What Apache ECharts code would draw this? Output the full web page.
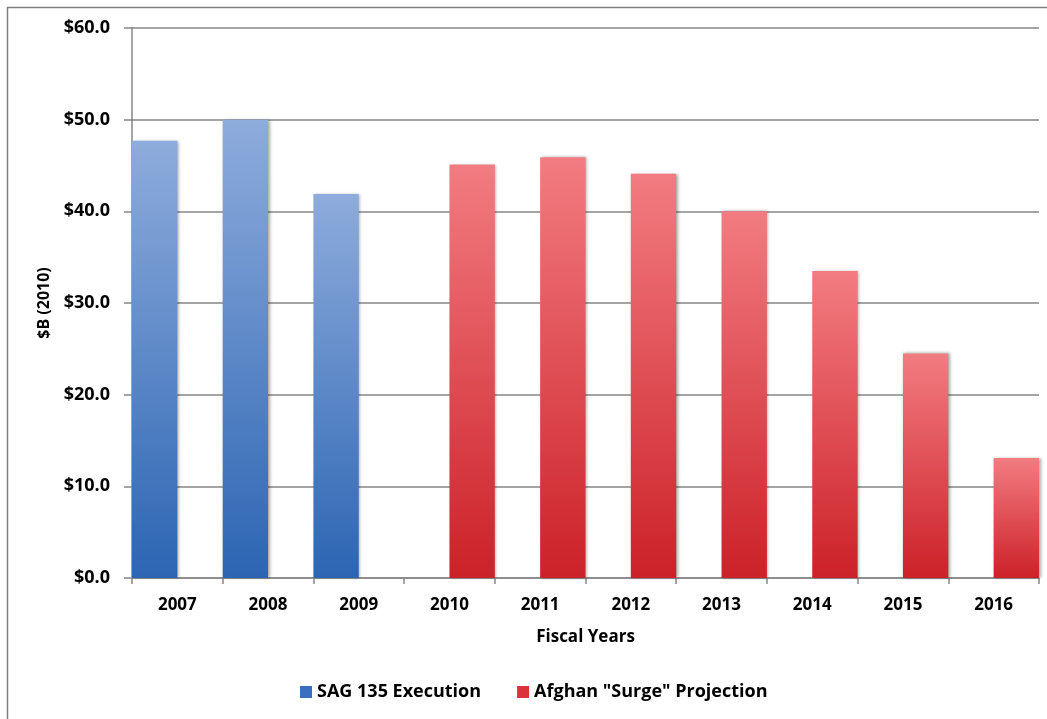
<!DOCTYPE html>
<html>
<head>
<meta charset="utf-8">
<script src="https://cdn.jsdelivr.net/npm/echarts@6/dist/echarts.min.js"></script>
<style>
  html, body { margin: 0; padding: 0; background: #fff; }
  #chart { width: 1047px; height: 719px; }
</style>
</head>
<body>
<div id="chart"></div>
<script>
// Fiscal years on the category axis
const years = ['2007', '2008', '2009', '2010', '2011', '2012', '2013', '2014', '2015', '2016'];
// Executed spending, $B (2010)
const sagExecution = [47.7, 50.0, 41.9, null, null, null, null, null, null, null];
// Projected spending under the Afghan "surge", $B (2010)
const surgeProjection = [null, null, null, 45.1, 45.9, 44.1, 40.0, 33.5, 24.5, 13.1];
// Y-axis range and step
const yMin = 0, yMax = 60, yStep = 10;

const FONT = '"Open Sans", Lato, sans-serif';

function vGrad(top, bottom) {
  return new echarts.graphic.LinearGradient(0, 0, 0, 1, [
    { offset: 0, color: top },
    { offset: 1, color: bottom }
  ]);
}

const chart = echarts.init(document.getElementById('chart'));
chart.setOption({
  animation: false,
  backgroundColor: '#ffffff',
  graphic: [{
    type: 'rect',
    shape: { x: 7.5, y: 7.5, width: 1100, height: 800 },
    style: { fill: 'none', stroke: '#7f7f7f', lineWidth: 1.5 },
    silent: true
  }],
  grid: { left: 132, right: 8, top: 28, bottom: 141, containLabel: false },
  legend: {
    top: 678,
    left: 295,
    itemWidth: 12,
    itemHeight: 12,
    itemGap: 36,
    icon: 'rect',
    textStyle: { fontFamily: FONT, fontWeight: 'bold', fontSize: 18, color: '#000' },
    data: [
      { name: 'SAG 135 Execution', itemStyle: { color: '#3a6fbf' } },
      { name: 'Afghan "Surge" Projection', itemStyle: { color: '#d9343b' } }
    ]
  },
  xAxis: {
    type: 'category',
    data: years,
    name: 'Fiscal Years',
    nameLocation: 'middle',
    nameGap: 51,
    nameTextStyle: { fontFamily: FONT, fontWeight: 'bold', fontSize: 17, color: '#000' },
    axisLine: { lineStyle: { color: '#868686', width: 1.5 } },
    axisTick: { show: true, length: 6, alignWithLabel: false, lineStyle: { color: '#868686', width: 1.5 } },
    axisLabel: { fontFamily: FONT, fontWeight: 'bold', fontSize: 17, color: '#000', margin: 19 }
  },
  yAxis: {
    type: 'value',
    min: yMin,
    max: yMax,
    interval: yStep,
    name: '$B (2010)',
    nameLocation: 'middle',
    nameRotate: 90,
    nameGap: 79,
    nameTextStyle: { fontFamily: FONT, fontWeight: 'bold', fontSize: 16, color: '#000' },
    axisLine: { show: true, lineStyle: { color: '#868686', width: 1.5 } },
    axisTick: { show: true, length: 8, lineStyle: { color: '#868686', width: 1.5 } },
    axisLabel: {
      fontFamily: FONT, fontWeight: 'bold', fontSize: 18, color: '#000', margin: 22,
      formatter: v => '$' + v.toFixed(1)
    },
    splitLine: { lineStyle: { color: '#868686', width: 1.5 } }
  },
  series: [
    {
      name: 'SAG 135 Execution',
      type: 'bar',
      data: sagExecution,
      barGap: '0%',
      barCategoryGap: '0%',
      itemStyle: {
        color: vGrad('#8eacdc', '#2c65b3'),
        shadowColor: 'rgba(0,0,0,0.35)',
        shadowBlur: 3,
        shadowOffsetX: 1.5
      }
    },
    {
      name: 'Afghan "Surge" Projection',
      type: 'bar',
      data: surgeProjection,
      barGap: '0%',
      barCategoryGap: '0%',
      itemStyle: {
        color: vGrad('#f27c81', '#cc2128'),
        shadowColor: 'rgba(0,0,0,0.35)',
        shadowBlur: 3,
        shadowOffsetX: 1.5
      }
    }
  ]
});
</script>
</body>
</html>
